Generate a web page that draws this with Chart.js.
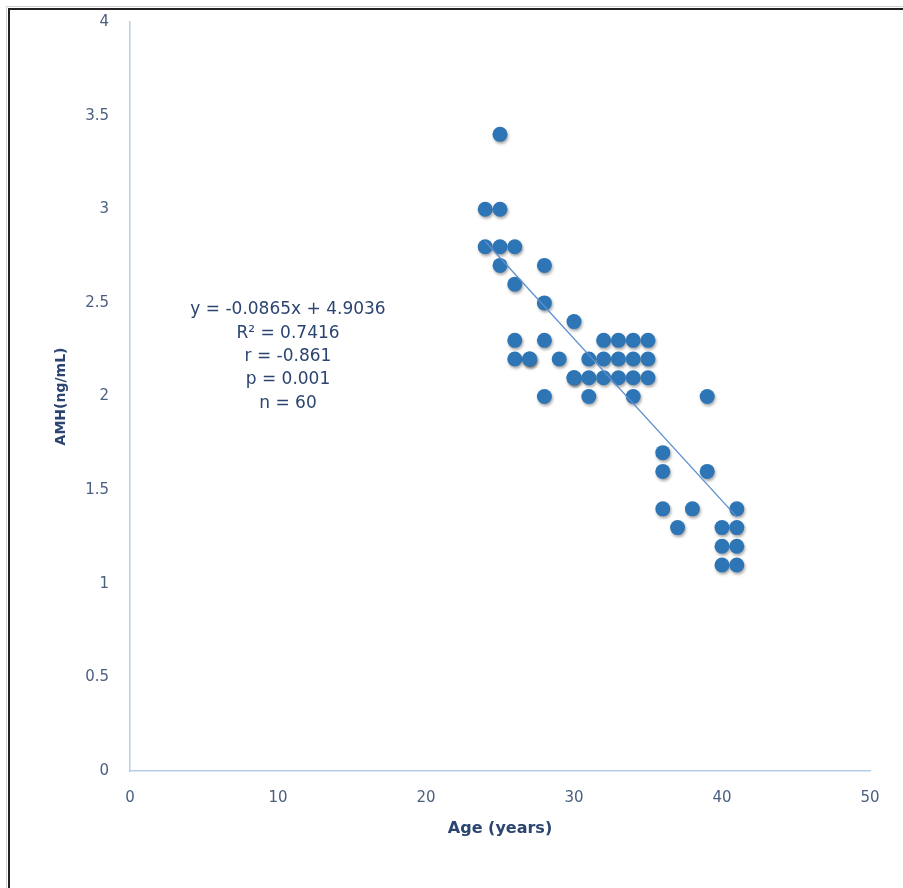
<!DOCTYPE html>
<html>
<head>
<meta charset="utf-8">
<script src="https://cdn.jsdelivr.net/npm/chart.js@4"></script>
<style>
  html, body { margin: 0; padding: 0; background: #ffffff; }
  #wrap { width: 903px; height: 888px; }
</style>
</head>
<body>
<div id="wrap"><canvas id="myChart" width="903" height="888"></canvas></div>
<script>
// Idade (anos) e AMH (ng/mL)
const ages = [24, 24, 25, 25, 25, 25, 26, 26, 26, 26, 27, 27, 28, 28, 28, 28, 29, 30, 30, 30,
              31, 31, 31, 32, 32, 32, 33, 33, 33, 34, 34, 34, 34, 35, 35, 35,
              36, 36, 36, 37, 38, 39, 39, 40, 40, 40, 41, 41, 41, 41];
const amh  = [3.0, 2.8, 3.4, 3.0, 2.8, 2.7, 2.8, 2.6, 2.3, 2.2, 2.2, 2.2, 2.7, 2.5, 2.3, 2.0, 2.2, 2.4, 2.1, 2.1,
              2.2, 2.1, 2.0, 2.3, 2.2, 2.1, 2.3, 2.2, 2.1, 2.3, 2.2, 2.1, 2.0, 2.3, 2.2, 2.1,
              1.7, 1.6, 1.4, 1.3, 1.4, 2.0, 1.6, 1.3, 1.2, 1.1, 1.4, 1.3, 1.2, 1.1];

// Linha de tendência (y = -0.0865x + 4.9036), extremos
const trendX = [24, 41];
const trendY = [2.8276, 1.3571];

// Texto da regressão
const statsLines = ['y = -0.0865x + 4.9036', 'R² = 0.7416', 'r = -0.861', 'p = 0.001', 'n = 60'];

const xTitle = 'Age (years)';
const yTitle = 'AMH(ng/mL)';

const points = ages.map((a, i) => ({x: a, y: amh[i]}));
const trend = trendX.map((a, i) => ({x: a, y: trendY[i]}));

const FONT = '"DejaVu Sans", "Liberation Sans", Arial, sans-serif';

// Sombra dos pontos, moldura e texto da regressão
const extras = {
    id: 'extras',
    beforeDatasetDraw(chart, args) {
        if (args.index === 0) {
            const ctx = chart.ctx;
            ctx.save();
            ctx.shadowColor = 'rgba(0,0,0,0.35)';
            ctx.shadowBlur = 3;
            ctx.shadowOffsetX = 1;
            ctx.shadowOffsetY = 2;
        }
    },
    afterDatasetDraw(chart, args) {
        if (args.index === 0) chart.ctx.restore();
    },
    afterDraw(chart) {
        const ctx = chart.ctx;
        ctx.save();
        // moldura
        ctx.strokeStyle = '#cfcfcf';
        ctx.lineWidth = 1;
        ctx.beginPath();
        ctx.moveTo(6.5, 888); ctx.lineTo(6.5, 6.5); ctx.lineTo(903, 6.5);
        ctx.stroke();
        ctx.strokeStyle = '#222222';
        ctx.lineWidth = 2;
        ctx.beginPath();
        ctx.moveTo(9, 888); ctx.lineTo(9, 9); ctx.lineTo(903, 9);
        ctx.stroke();
        // texto
        ctx.fillStyle = '#2b4470';
        ctx.font = '17px ' + FONT;
        ctx.textAlign = 'center';
        ctx.textBaseline = 'middle';
        statsLines.forEach((t, i) => ctx.fillText(t, 288, 310 + i * 23.3));
        ctx.restore();
    }
};

const ctx = document.getElementById('myChart');

new Chart(ctx, {
    type: 'scatter',
    data: {
        datasets: [{
            data: points,
            backgroundColor: '#2e75b6',
            borderColor: '#2e75b6',
            pointRadius: 7.5,
            pointHoverRadius: 7.5,
            borderWidth: 0,
            order: 2
        }, {
            type: 'line',
            data: trend,
            borderColor: '#5b8fcf',
            borderWidth: 1.3,
            pointRadius: 0,
            fill: false,
            order: 1
        }]
    },
    options: {
        responsive: false,
        animation: false,
        events: [],
        layout: {
            padding: {left: 0, top: 8, right: 33, bottom: 0}
        },
        plugins: {
            legend: { display: false },
            tooltip: { enabled: false }
        },
        scales: {
            x: {
                type: 'linear',
                min: 0,
                max: 50,
                ticks: {
                    stepSize: 10,
                    padding: 10,
                    color: '#4a5f80',
                    font: { family: FONT, size: 15 },
                    callback: v => String(v)
                },
                grid: { display: false },
                border: { display: true, color: '#b4cde9', width: 1.5 },
                title: {
                    display: true,
                    text: xTitle,
                    color: '#2b4470',
                    font: { family: FONT, size: 16, weight: 'bold' },
                    padding: { top: 0, bottom: 50 }
                },
                afterFit(scale) { scale.height = 117; }
            },
            y: {
                type: 'linear',
                min: 0,
                max: 4,
                ticks: {
                    stepSize: 0.5,
                    padding: 13,
                    color: '#4a5f80',
                    font: { family: FONT, size: 15 },
                    callback: v => String(v)
                },
                grid: { display: false },
                border: { display: true, color: '#b4cde9', width: 1.5 },
                title: {
                    display: true,
                    text: yTitle,
                    color: '#2b4470',
                    font: { family: FONT, size: 14, weight: 'bold' },
                    padding: { top: 53, bottom: 0 }
                },
                afterFit(scale) { scale.width = 130; }
            }
        }
    },
    plugins: [extras]
});
</script>
</body>
</html>
